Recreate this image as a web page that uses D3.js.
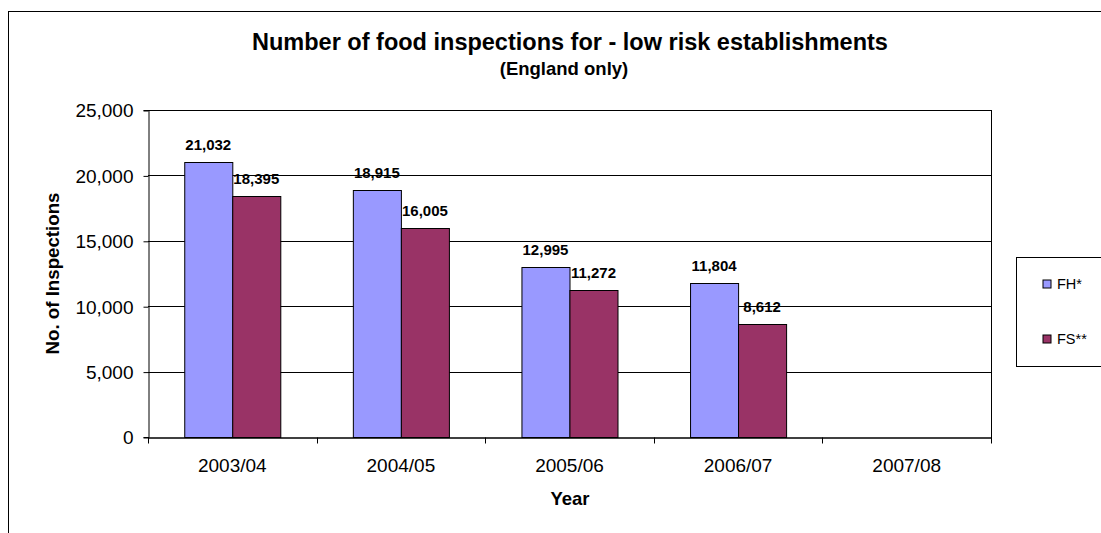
<!DOCTYPE html>
<html>
<head>
<meta charset="utf-8">
<script src="https://cdn.jsdelivr.net/npm/d3@7"></script>
<style>
  body { margin: 0; background: #fff; }
  svg { display: block; font-family: Arial, "Liberation Sans", sans-serif; }
  .tick text { font-size: 19px; fill: #000; font-family: Arial, "Liberation Sans", sans-serif; }
  .tick line { stroke: #000; }
</style>
</head>
<body>
<div id="chart"></div>
<script>
const years = ["2003/04", "2004/05", "2005/06", "2006/07", "2007/08"];
const seriesNames = ["FH*", "FS**"];
const fhValues = [21032, 18915, 12995, 11804, null];
const fsValues = [18395, 16005, 11272, 8612, null];
const yTicks = [0, 5000, 10000, 15000, 20000, 25000];

const width = 1101;
const height = 533;
const margin = { top: 110, right: 110, bottom: 96, left: 148 };
const colors = ["#9999FF", "#993366"];

const svg = d3.select("#chart").append("svg")
  .attr("width", width)
  .attr("height", height);

// outer chart frame (runs off the right and bottom)
svg.append("rect")
  .attr("x", 8.5).attr("y", 11.5)
  .attr("width", width + 10).attr("height", height + 10)
  .attr("fill", "none").attr("stroke", "#000");

const x = d3.scaleBand()
  .domain(years)
  .range([margin.left, width - margin.right])
  .paddingInner(0)
  .paddingOuter(0);

const x1 = d3.scaleBand()
  .domain(seriesNames)
  .range([0, x.bandwidth() * 0.57]);

const y = d3.scaleLinear()
  .domain([0, 25000])
  .range([height - margin.bottom, margin.top]);

// grid lines
svg.append("g")
  .selectAll("line")
  .data(yTicks.slice(1))
  .join("line")
  .attr("x1", margin.left).attr("x2", width - margin.right)
  .attr("y1", (d) => Math.round(y(d)) + 0.5)
  .attr("y2", (d) => Math.round(y(d)) + 0.5)
  .attr("stroke", "#000");

// right border of plot
svg.append("line")
  .attr("x1", width - margin.right + 0.5).attr("x2", width - margin.right + 0.5)
  .attr("y1", y(25000)).attr("y2", y(0) + 6)
  .attr("stroke", "#000");

const rows = years.map((yr, i) => ({
  year: yr,
  values: [
    { name: seriesNames[0], value: fhValues[i] },
    { name: seriesNames[1], value: fsValues[i] },
  ],
}));

const offset = (x.bandwidth() - x1.range()[1]) / 2;

const groups = svg.append("g")
  .selectAll("g")
  .data(rows)
  .join("g")
  .attr("transform", (d) => `translate(${x(d.year) + offset},0)`);

groups.selectAll("rect")
  .data((d) => d.values.filter((v) => v.value !== null))
  .join("rect")
  .attr("x", (d) => Math.round(x1(d.name)) + 0.5)
  .attr("y", (d) => Math.round(y(d.value)) + 0.5)
  .attr("width", x1.bandwidth())
  .attr("height", (d) => Math.round(y(0)) - Math.round(y(d.value)))
  .attr("fill", (d, i) => colors[i])
  .attr("stroke", "#000");

groups.selectAll("text")
  .data((d) => d.values.filter((v) => v.value !== null))
  .join("text")
  .attr("x", (d) => x1(d.name) + x1.bandwidth() / 2)
  .attr("y", (d) => y(d.value) - 12)
  .attr("text-anchor", "middle")
  .attr("font-size", 15)
  .attr("font-weight", "bold")
  .text((d) => d3.format(",")(d.value));

// y axis
svg.append("g")
  .attr("transform", `translate(${margin.left + 0.5},0)`)
  .call(d3.axisLeft(y).tickValues(yTicks).tickFormat(d3.format(",")).tickSize(5).tickPadding(10))
  .call((g) => g.select(".domain").attr("stroke", "#000"))
  .call((g) => g.selectAll(".tick line").attr("transform", "translate(0,0.5)"))
  .call((g) => g.selectAll(".tick text").attr("dy", "0.36em"));

// x axis
const xAxis = svg.append("g")
  .attr("transform", `translate(0,${Math.round(y(0)) + 0.5})`)
  .call(d3.axisBottom(x).tickSize(0))
  .call((g) => g.select(".domain").attr("stroke", "#000").attr("stroke-width", 1.5));

xAxis.selectAll(".tick text").attr("y", 34.5).attr("dy", 0);

xAxis.append("g")
  .selectAll("line")
  .data(years.map((d) => x(d)).concat([width - margin.right]))
  .join("line")
  .attr("x1", (d) => Math.round(d) + 0.5)
  .attr("x2", (d) => Math.round(d) + 0.5)
  .attr("y1", 0).attr("y2", 6)
  .attr("stroke", "#000");

// titles
svg.append("text")
  .attr("x", 570).attr("y", 50)
  .attr("text-anchor", "middle")
  .attr("font-size", 23.5).attr("font-weight", "bold")
  .text("Number of food inspections for - low risk establishments");

svg.append("text")
  .attr("x", 564).attr("y", 75)
  .attr("text-anchor", "middle")
  .attr("font-size", 18.5).attr("font-weight", "bold")
  .text("(England only)");

svg.append("text")
  .attr("transform", `translate(59,${(y(0) + y(25000)) / 2}) rotate(-90)`)
  .attr("text-anchor", "middle")
  .attr("font-size", 18.7).attr("font-weight", "bold")
  .text("No. of Inspections");

svg.append("text")
  .attr("x", 570).attr("y", 505)
  .attr("text-anchor", "middle")
  .attr("font-size", 18.5).attr("font-weight", "bold")
  .text("Year");

// legend
const legend = svg.append("g").attr("transform", "translate(1016.5,257.5)");
legend.append("rect")
  .attr("width", 100).attr("height", 109)
  .attr("fill", "#fff").attr("stroke", "#000");

const item = legend.selectAll("g.item")
  .data(seriesNames)
  .join("g")
  .attr("class", "item")
  .attr("transform", (d, i) => `translate(26.5,${22.5 + i * 55})`);

item.append("rect")
  .attr("width", 8).attr("height", 8)
  .attr("fill", (d, i) => colors[i])
  .attr("stroke", "#000");

item.append("text")
  .attr("x", 14).attr("y", 8.5)
  .attr("font-size", 14.5)
  .text((d) => d);
</script>
</body>
</html>
